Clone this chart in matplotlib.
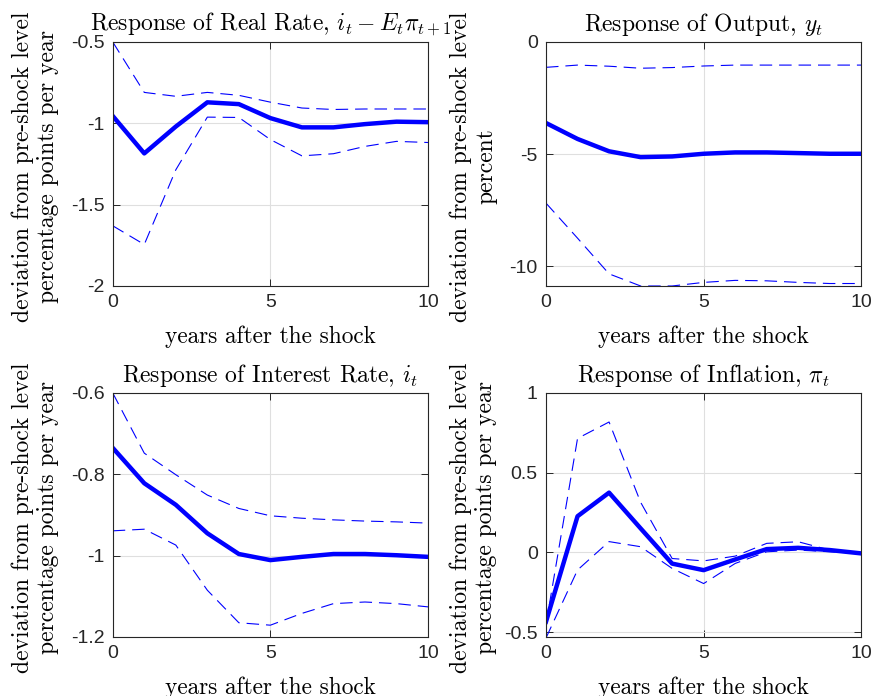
import numpy as np
import matplotlib
matplotlib.use("Agg")
import matplotlib.pyplot as plt

plt.rcParams['mathtext.fontset'] = 'cm'
plt.rcParams['axes.unicode_minus'] = False
plt.rcParams['lines.scale_dashes'] = False
plt.rcParams['font.family'] = ['Liberation Sans', 'DejaVu Sans']

years = np.arange(0, 11)

# Real rate
real_mid = [-0.955, -1.185, -1.02, -0.871, -0.882, -0.968, -1.025, -1.025, -1.005, -0.99, -0.993]
real_hi = [-0.50, -0.81, -0.834, -0.81, -0.828, -0.87, -0.906, -0.915, -0.912, -0.912, -0.912]
real_lo = [-1.63, -1.745, -1.286, -0.962, -0.964, -1.10, -1.20, -1.187, -1.142, -1.111, -1.118]

# Output
out_mid = [-3.61, -4.32, -4.87, -5.13, -5.10, -4.98, -4.92, -4.92, -4.95, -4.98, -4.98]
out_hi = [-1.13, -1.03, -1.08, -1.17, -1.14, -1.07, -1.03, -1.03, -1.03, -1.03, -1.03]
out_lo = [-7.18, -8.74, -10.33, -10.87, -10.87, -10.71, -10.62, -10.64, -10.71, -10.76, -10.76]

# Interest rate
int_mid = [-0.735, -0.822, -0.875, -0.945, -0.996, -1.011, -1.003, -0.996, -0.996, -0.999, -1.003]
int_hi = [-0.60, -0.748, -0.801, -0.851, -0.884, -0.902, -0.908, -0.912, -0.915, -0.917, -0.92]
int_lo = [-0.939, -0.935, -0.974, -1.085, -1.165, -1.171, -1.142, -1.118, -1.114, -1.118, -1.126]

# Inflation
inf_mid = [-0.434, 0.227, 0.375, 0.151, -0.07, -0.111, -0.044, 0.021, 0.029, 0.015, -0.006]
inf_hi = [-0.45, 0.715, 0.818, 0.315, -0.038, -0.053, -0.023, 0.057, 0.067, 0.015, -0.006]
inf_lo = [-0.536, -0.11, 0.068, 0.036, -0.10, -0.195, -0.069, 0.004, 0.015, 0.004, -0.006]

panels = [
    ("Response of Real Rate, $i_t - E_t\\pi_{t+1}$", real_mid, real_hi, real_lo,
     (-2, -0.5), [-2, -1.5, -1, -0.5], ["-2", "-1.5", "-1", "-0.5"],
     "deviation from pre-shock level\npercentage points per year"),
    ("Response of Output, $y_t$", out_mid, out_hi, out_lo,
     (-10.87, 0), [-10, -5, 0], ["-10", "-5", "0"],
     "deviation from pre-shock level\npercent"),
    ("Response of Interest Rate, $i_t$", int_mid, int_hi, int_lo,
     (-1.2, -0.6), [-1.2, -1, -0.8, -0.6], ["-1.2", "-1", "-0.8", "-0.6"],
     "deviation from pre-shock level\npercentage points per year"),
    ("Response of Inflation, $\\pi_t$", inf_mid, inf_hi, inf_lo,
     (-0.53, 1), [-0.5, 0, 0.5, 1], ["-0.5", "0", "0.5", "1"],
     "deviation from pre-shock level\npercentage points per year"),
]

fig = plt.figure(figsize=(8.76, 6.96), dpi=100)
lefts = [0.1287, 0.6233]
bottoms = [0.5891, 0.0848]
w = 0.4886 - 0.1287
h = 0.9397 - 0.5891
ylab_x = [-0.170, -0.155]

box = (0.15, 0.15, 0.15)
for k, (title, mid, hi, lo, ylim, yt, ytl, ylab) in enumerate(panels):
    ax = fig.add_axes([lefts[k % 2], bottoms[k // 2], w, h])
    ax.plot(years, mid, color='blue', lw=3.2, solid_joinstyle='round')
    ax.plot(years, hi, color='blue', lw=0.8, dashes=(9, 5))
    ax.plot(years, lo, color='blue', lw=0.8, dashes=(9, 5))
    ax.set_xlim(0, 10)
    ax.set_ylim(*ylim)
    ax.set_xticks([0, 5, 10])
    ax.set_xticklabels(["0", "5", "10"])
    ax.set_yticks(yt)
    ax.set_yticklabels(ytl)
    ax.grid(True, color='#dfdfdf', lw=0.8)
    ax.set_axisbelow(True)
    ax.tick_params(direction='in', top=True, right=True, length=5, width=0.7,
                   color=box, labelsize=14, labelcolor=box, pad=6)
    for s in ax.spines.values():
        s.set_color(box)
        s.set_linewidth(0.8)
    ax.set_title(title, fontfamily='cmr10', fontsize=17, pad=8)
    ax.set_xlabel("years after the shock", fontfamily='cmr10', fontsize=16.8)
    ax.xaxis.set_label_coords(0.5, -0.16)
    ax.set_ylabel(ylab, fontfamily='cmr10', fontsize=17, linespacing=1.2)
    ax.yaxis.set_label_coords(ylab_x[k % 2], 0.49)

fig.savefig("out.png", dpi=100)
